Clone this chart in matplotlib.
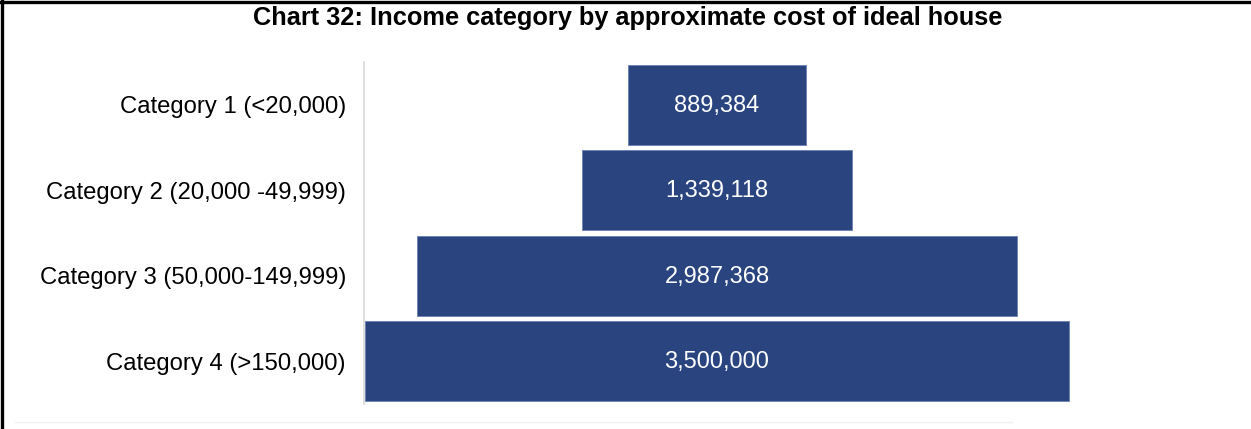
import matplotlib
matplotlib.use("Agg")
import matplotlib.pyplot as plt
from matplotlib.lines import Line2D

categories = [
    "Category 1 (<20,000)",
    "Category 2 (20,000 -49,999)",
    "Category 3 (50,000-149,999)",
    "Category 4 (>150,000)",
]
values = [889384, 1339118, 2987368, 3500000]
title = "Chart 32: Income category by approximate cost of ideal house"

plt.rcParams["font.family"] = ["Liberation Sans", "DejaVu Sans"]

W, H = 1251, 429
fig = plt.figure(figsize=(W / 100, H / 100), dpi=100)
fig.patch.set_facecolor("white")

ax = fig.add_axes([364 / W, 1 - 404 / H, (1070 - 364) / W, (404 - 62) / H])

bar_color = "#29447f"
ypos = list(range(len(categories)))
lefts = [-v / 2 for v in values]
ax.barh(ypos, values, left=lefts, height=0.935, color=bar_color,
        edgecolor="#6b80b0", linewidth=0.6)

for y, v in zip(ypos, values):
    ax.text(0, y + 0.01, f"{v:,}", ha="center", va="center", color="white",
            fontsize=17)

half = max(values) / 2
ax.set_xlim(-half * 1.003, half * 1.003)
ax.set_ylim(len(categories) - 0.5, -0.5)
ax.set_yticks(ypos)
ax.set_yticklabels(categories, fontsize=17.2)
ax.tick_params(axis="y", length=0, pad=13)
ax.set_xticks([])
for side in ("top", "right", "bottom"):
    ax.spines[side].set_visible(False)
ax.spines["left"].set_color("#d9d9d9")
ax.spines["left"].set_linewidth(1.2)

fig.text(628 / W, 1 - 18 / H, title, ha="center", va="center",
         fontsize=18.3, fontweight="bold")

# frame edges and faint baseline
fig.add_artist(Line2D([1.5 / W, 1.5 / W], [0, 1], color="black", lw=2.4,
                      transform=fig.transFigure))
fig.add_artist(Line2D([0, 1], [1 - 1.5 / H, 1 - 1.5 / H], color="black", lw=2.4,
                      transform=fig.transFigure))
fig.add_artist(Line2D([15 / W, 1012 / W], [1 - 422 / H, 1 - 422 / H],
                      color="#f2f2f2", lw=1.0, transform=fig.transFigure))

fig.savefig("out.png", dpi=100)
